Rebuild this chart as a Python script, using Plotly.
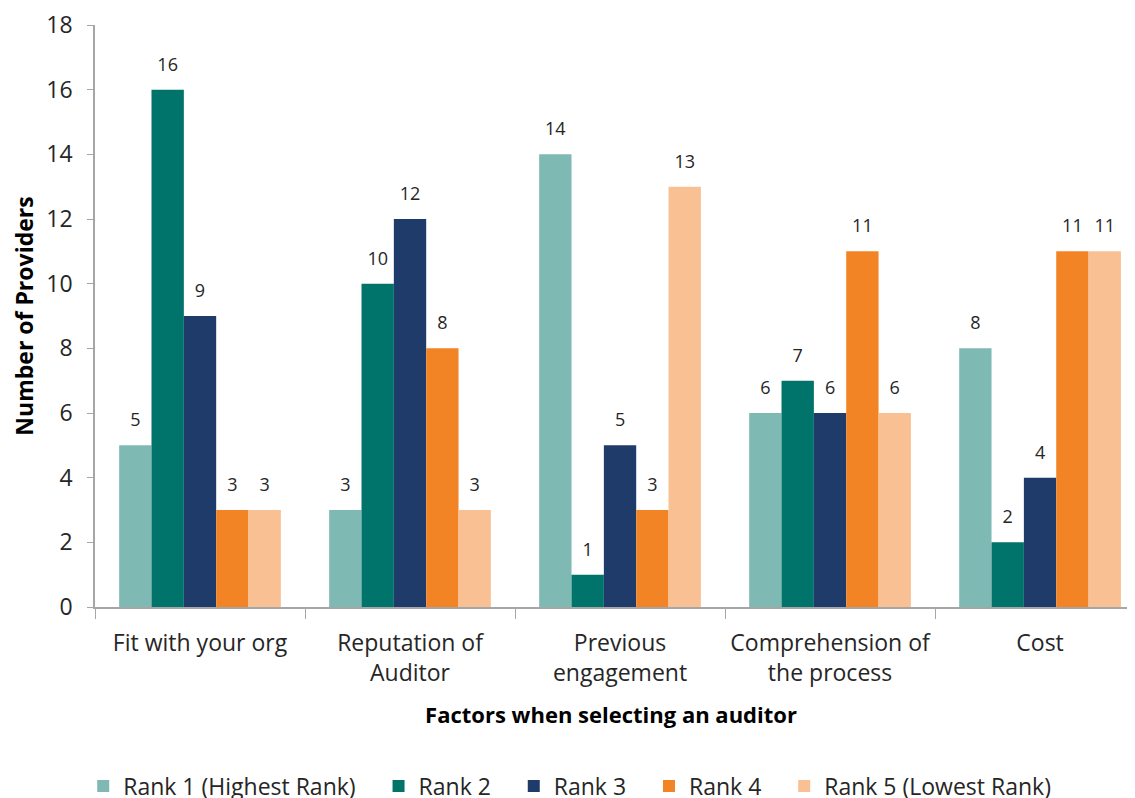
import plotly.graph_objects as go

# Data
factors = ["Fit with your org", "Reputation of<br>Auditor", "Previous<br>engagement",
           "Comprehension of<br>the process", "Cost"]
rank_names = ["Rank 1 (Highest Rank)", "Rank 2", "Rank 3", "Rank 4", "Rank 5 (Lowest Rank)"]
rank1 = [5, 3, 14, 6, 8]
rank2 = [16, 10, 1, 7, 2]
rank3 = [9, 12, 5, 6, 4]
rank4 = [3, 8, 3, 11, 11]
rank5 = [3, 3, 13, 6, 11]
colors = ["#7FB9B4", "#00736A", "#1F3B6A", "#F28426", "#F9C193"]

FONT = "Open Sans"
TXT = "#262626"
PAD = "\u00a0" * 3  # extra room between legend entries

fig = go.Figure()
series = [rank1, rank2, rank3, rank4, rank5]
for i, (name, vals, col) in enumerate(zip(rank_names, series, colors)):
    fig.add_trace(go.Bar(
        x=factors, y=vals,
        name=name + (PAD if i < len(rank_names) - 1 else ""),
        marker=dict(color=col, line=dict(width=0)),
        text=vals,
        # small second line lifts the label a bit above the bar
        texttemplate="<span style='font-size:18px'>%{y}</span><br> ",
        textposition="outside",
        textfont=dict(family=FONT, size=10, color=TXT),
        constraintext="none",
        cliponaxis=False,
    ))

# page body has an 8px margin; the bottom of the legend runs past the window like the original
fig.update_layout(
    width=1119, height=814,
    margin=dict(l=87, r=0, t=17, b=215),
    paper_bgcolor="white", plot_bgcolor="white",
    barmode="group", bargap=0.23, bargroupgap=0,
    font=dict(family=FONT, color=TXT),
    xaxis=dict(
        range=[-0.5, 4.414], automargin=False,
        showline=True, linecolor="#A6A6A6", linewidth=1.5,
        ticks="outside", tickson="boundaries", ticklen=10, tickcolor="#A6A6A6",
        tickfont=dict(size=23, color=TXT), ticklabelstandoff=15, tickangle=0,
        title=dict(text="<b>Factors when selecting an auditor</b>",
                   font=dict(size=22, color="black"), standoff=20),
    ),
    yaxis=dict(
        range=[0, 18], dtick=2, automargin=False,
        showgrid=False, zeroline=False,
        showline=True, linecolor="#A6A6A6", linewidth=1.5,
        ticks="outside", ticklen=6, tickcolor="#A6A6A6",
        tickfont=dict(size=23, color=TXT), ticklabelstandoff=10,
        title=dict(text="<b>Number of Providers</b>",
                   font=dict(size=23, color="black"), standoff=14),
    ),
    legend=dict(
        orientation="h", x=0.46, xanchor="center", y=-0.2706, yanchor="top",
        font=dict(size=23, color=TXT), traceorder="normal",
        itemwidth=30,
    ),
)

fig.write_html("out.html")
